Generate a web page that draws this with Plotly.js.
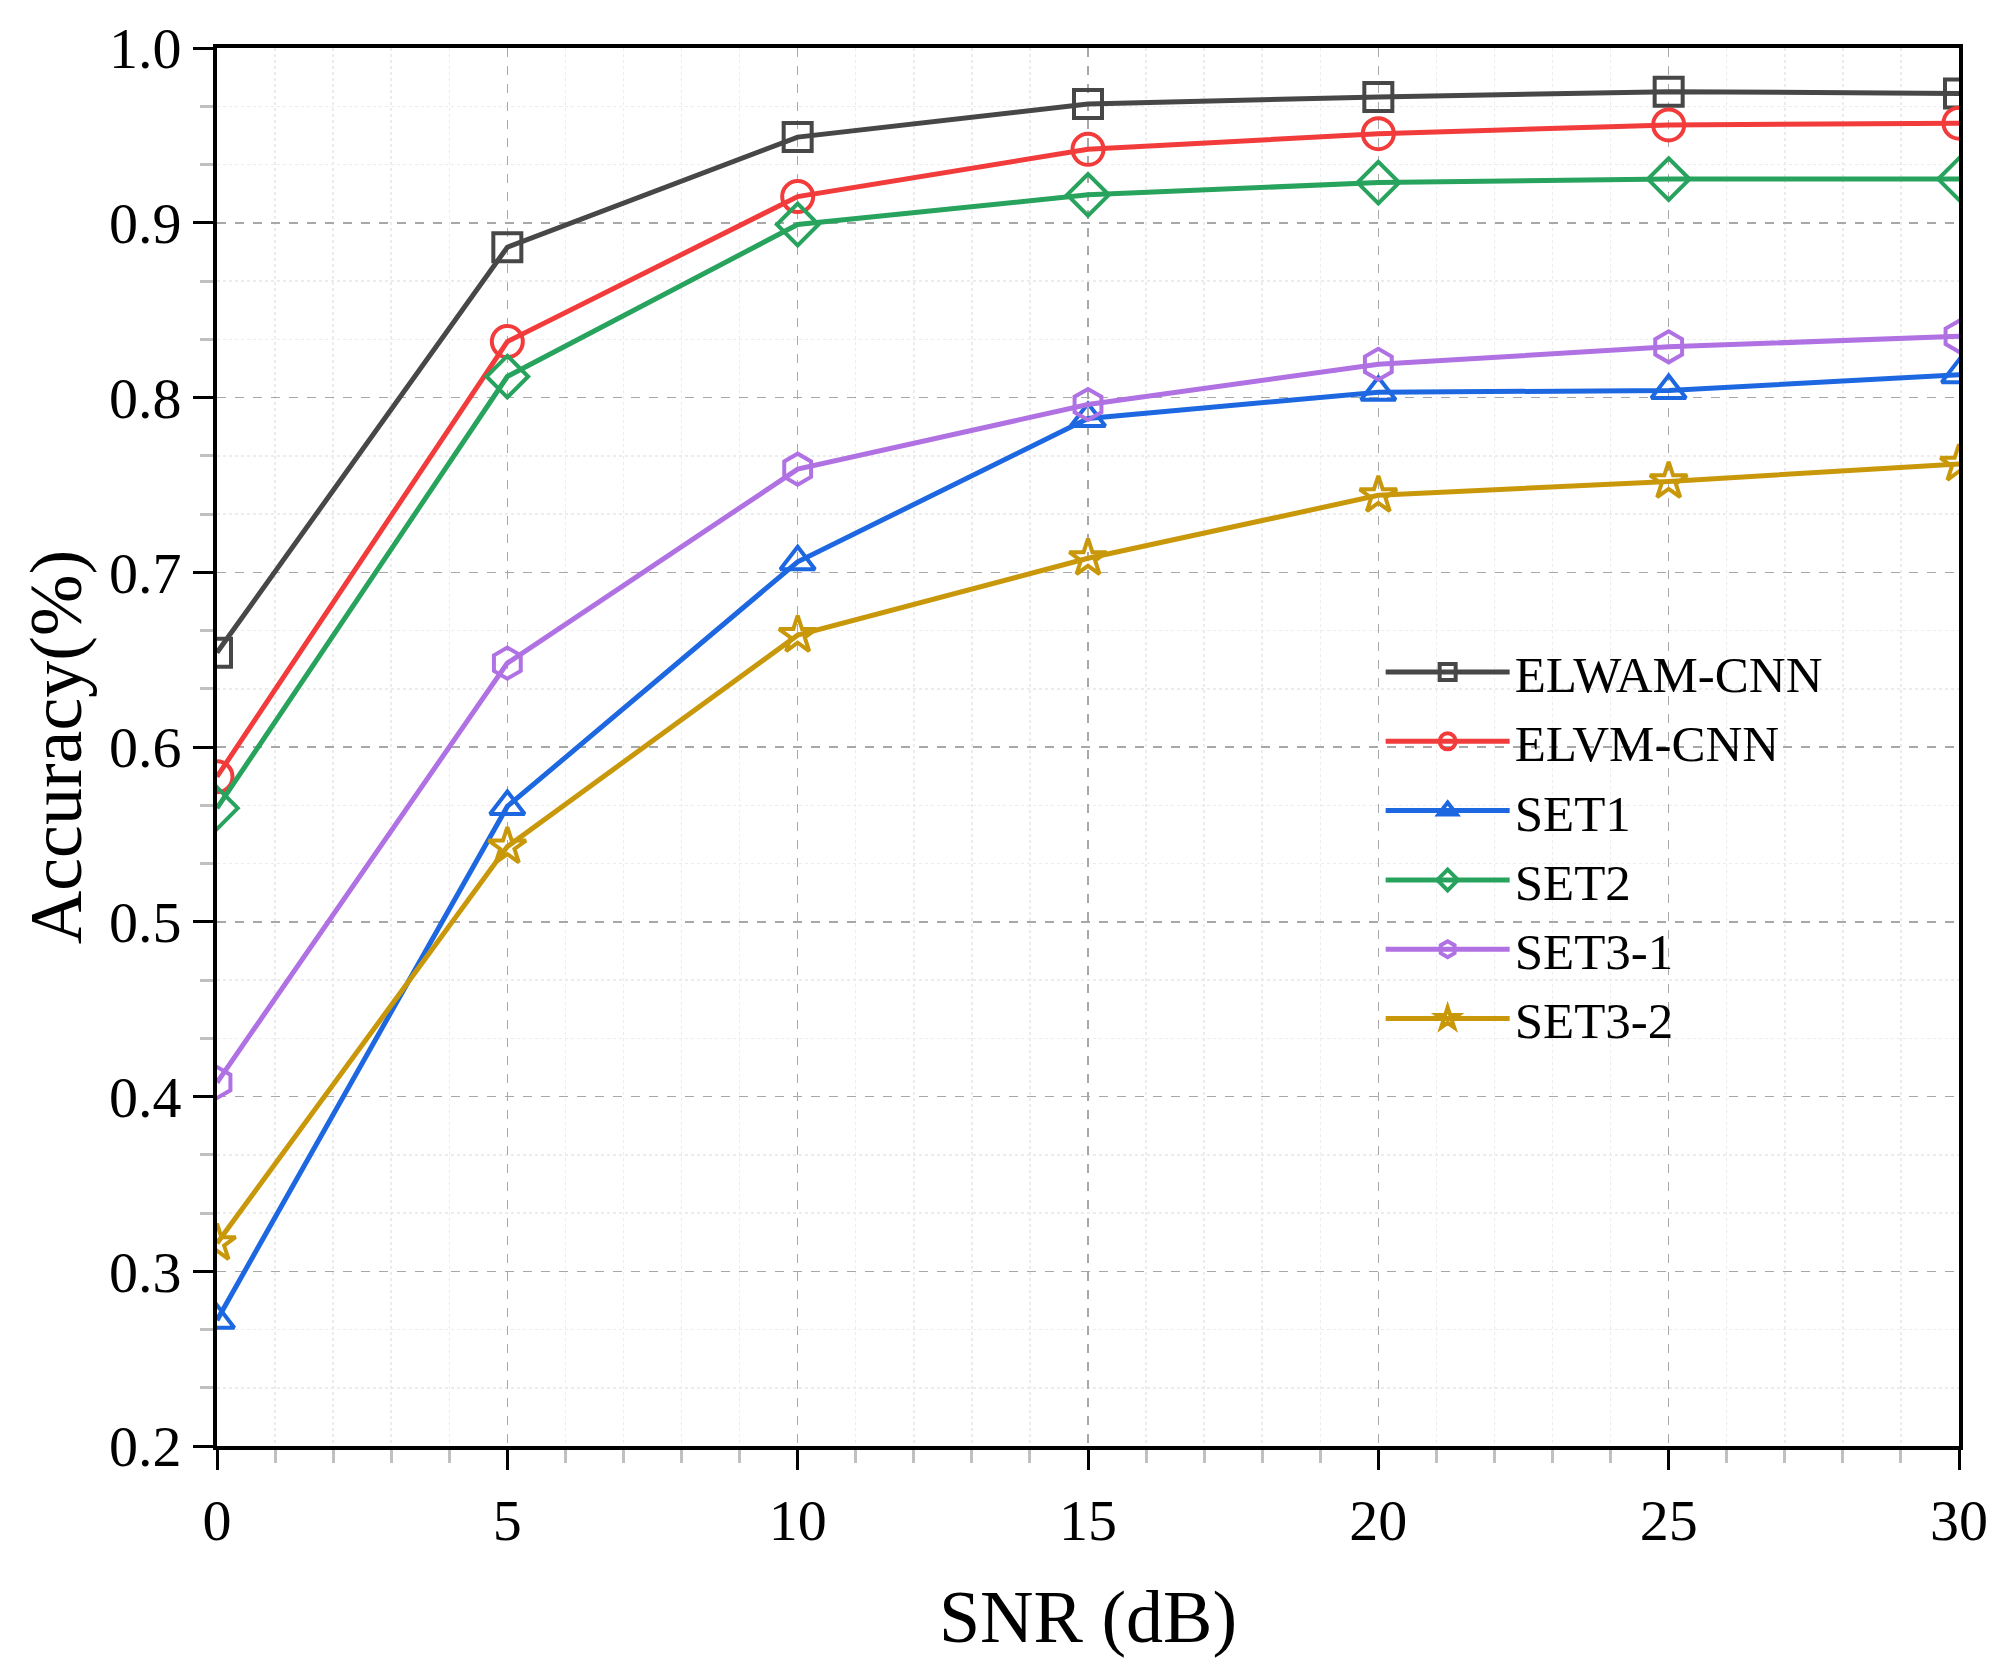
<!DOCTYPE html>
<html>
<head>
<meta charset="utf-8">
<script src="https://cdn.plot.ly/plotly-3.0.1.min.js"></script>
<style>
  html, body { margin: 0; padding: 0; background: #ffffff; }
  #chart { width: 1995px; height: 1668px; }
</style>
</head>
<body>
<div id="chart"></div>
<script>
// SNR values (dB)
const snr = [0, 5, 10, 15, 20, 25, 30];

// Accuracy per method
const elwamCnn = [0.654, 0.886, 0.949, 0.968, 0.972, 0.975, 0.974];
const elvmCnn  = [0.583, 0.832, 0.915, 0.942, 0.951, 0.956, 0.957];
const set1     = [0.272, 0.566, 0.706, 0.788, 0.803, 0.804, 0.813];
const set2     = [0.565, 0.812, 0.899, 0.916, 0.923, 0.925, 0.925];
const set3_1   = [0.408, 0.648, 0.759, 0.796, 0.819, 0.829, 0.835];
const set3_2   = [0.316, 0.543, 0.664, 0.708, 0.744, 0.752, 0.762];

const seriesNames = ['ELWAM-CNN', 'ELVM-CNN', 'SET1', 'SET2', 'SET3-1', 'SET3-2'];
const seriesValues = [elwamCnn, elvmCnn, set1, set2, set3_1, set3_2];
const seriesColors = ['#474747', '#f23b3b', '#1d68e0', '#27a35e', '#b071e3', '#c9980a'];
const seriesSymbols = ['square-open', 'circle-open', 'triangle-up-open', 'diamond-open', 'hexagon-open', 'star-open'];
const seriesSizes = [28, 31, 30, 32, 31, 28];

const FONT = 'Liberation Serif, Times New Roman, serif';

const traces = seriesNames.map((name, i) => ({
  type: 'scatter',
  mode: 'lines+markers',
  name: name,
  x: snr,
  y: seriesValues[i],
  line: { color: seriesColors[i], width: 5 },
  marker: {
    symbol: seriesSymbols[i],
    size: seriesSizes[i],
    color: seriesColors[i],
    line: { color: seriesColors[i], width: 4 }
  }
}));

const layout = {
  width: 1995,
  height: 1668,
  paper_bgcolor: '#ffffff',
  plot_bgcolor: '#ffffff',
  margin: { l: 217, r: 36, t: 48, b: 222 },
  font: { family: FONT, size: 58, color: '#000000' },
  showlegend: true,
  legend: {
    x: 0.668, xanchor: 'left',
    y: 0.582, yanchor: 'top',
    bgcolor: 'rgba(0,0,0,0)',
    borderwidth: 0,
    font: { family: FONT, size: 51, color: '#000000' },
    itemwidth: 124,
    tracegroupgap: 0
  },
  xaxis: {
    range: [0, 30],
    tick0: 0, dtick: 5,
    showline: true, linecolor: '#000000', linewidth: 4, mirror: true,
    ticks: 'outside', ticklen: 20, tickwidth: 3, tickcolor: '#000000',
    tickfont: { family: FONT, size: 58, color: '#000000' },
    showgrid: true, gridcolor: '#a8a8a8', gridwidth: 1.5, griddash: 'dash',
    zeroline: false,
    minor: {
      dtick: 1, ticks: 'outside', ticklen: 13, tickwidth: 3, tickcolor: '#c0c0c0',
      showgrid: true, gridcolor: '#ececec', gridwidth: 1.5, griddash: 'dot'
    },
    title: { text: 'SNR (dB)', font: { family: FONT, size: 74, color: '#000000' }, standoff: 40 },
    automargin: false
  },
  yaxis: {
    range: [0.2, 1.0],
    tick0: 0.2, dtick: 0.1, tickformat: '.1f',
    showline: true, linecolor: '#000000', linewidth: 4, mirror: true,
    ticks: 'outside', ticklen: 20, tickwidth: 3, tickcolor: '#000000',
    tickfont: { family: FONT, size: 58, color: '#000000' },
    showgrid: true, gridcolor: '#a8a8a8', gridwidth: 1.5, griddash: 'dash',
    zeroline: false,
    minor: {
      tick0: 0.2, dtick: 0.1 / 3, ticks: 'outside', ticklen: 13, tickwidth: 3, tickcolor: '#c0c0c0',
      showgrid: true, gridcolor: '#ececec', gridwidth: 1.5, griddash: 'dot'
    },
    title: { text: 'Accuracy(%)', font: { family: FONT, size: 74, color: '#000000' }, standoff: 4 },
    automargin: false
  }
};

Plotly.newPlot('chart', traces, layout, { displayModeBar: false, staticPlot: true });
</script>
</body>
</html>
